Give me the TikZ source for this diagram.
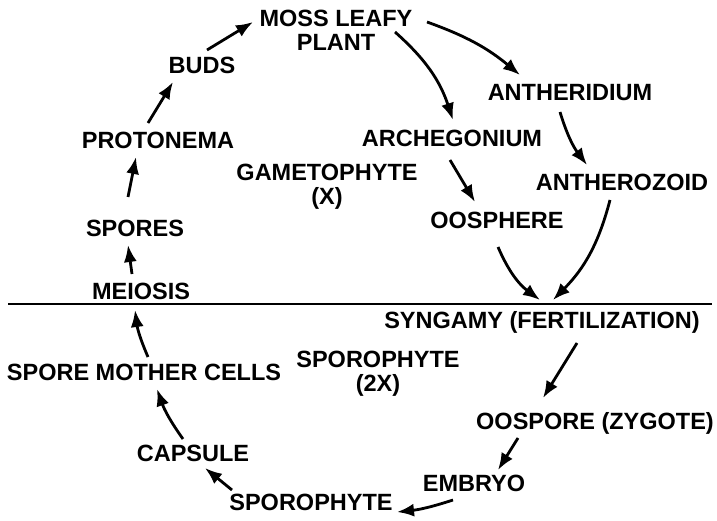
\documentclass[tikz,border=0pt]{standalone}
\usepackage{fontspec}
\setmainfont{Liberation Sans}
\usetikzlibrary{arrows.meta}

\tikzset{
  stage/.style={font=\bfseries\fontsize{23.5}{24}\selectfont, inner sep=0pt, align=center},
  arr/.style={line width=2.8pt, -{Latex[length=17pt,width=13pt]}},
}

\begin{document}
\begin{tikzpicture}[x=1pt, y=-1pt]
            \useasboundingbox (0,0) rectangle (717,521);

            % Gametophyte part (top)
            \node[stage] (moss) at (336,30) {MOSS LEAFY\\PLANT};
            \node[stage] (buds) at (202,65) {BUDS};
            \node[stage] (proto) at (158,140) {PROTONEMA};
            \node[stage] (spores) at (135,228) {SPORES};
            \node[stage] (meiosis) at (141,291) {MEIOSIS};
            \node[stage] (game) at (327,187) {GAMETOPHYTE\\(X)};
            \node[stage] (arche) at (452,138) {ARCHEGONIUM};
            \node[stage] (anther) at (570,93) {ANTHERIDIUM};
            \node[stage] (antzoid) at (622,182) {ANTHEROZOID};
            \node[stage] (oosph) at (497,220) {OOSPHERE};

            % Dividing line
            \draw[line width=1.8pt] (8,304) -- (712,304);

            % Sporophyte part (bottom)
            \node[stage] (syn) at (542,322) {SYNGAMY (FERTILIZATION)};
            \node[stage] (sporo2x) at (378,374) {SPOROPHYTE\\(2X)};
            \node[stage] (smc) at (144,372) {SPORE MOTHER CELLS};
            \node[stage] (capsule) at (193,453) {CAPSULE};
            \node[stage] (sporo) at (311,502) {SPOROPHYTE};
            \node[stage] (embryo) at (474,483) {EMBRYO};
            \node[stage] (oospore) at (595,423) {OOSPORE (ZYGOTE)};

            % Arrows
            \draw[arr] ([shift={(-9,-17)}]meiosis.center) -- ([shift={(-7,17)}]spores.center);
            \draw[arr] ([shift={(-7,-31)}]spores.center) -- ([shift={(-22,17)}]proto.center);
            \draw[arr] ([shift={(-10,-17)}]proto.center) -- ([shift={(-29,17)}]buds.center);
            \draw[arr] ([shift={(5,-15)}]buds.center) -- ([shift={(-83,-8)}]moss.center);
            \draw[arr] ([shift={(91,-8)}]moss.center) to[bend left=10] ([shift={(-50,-18)}]anther.center);
            \draw[arr] ([shift={(59,2)}]moss.center) to[bend left=15] ([shift={(1,-18)}]arche.center);
            \draw[arr] ([shift={(-2,22)}]arche.center) -- ([shift={(-22,-18)}]oosph.center);
            \draw[arr] ([shift={(-10,19)}]anther.center) to[bend right=10] ([shift={(-35,-17)}]antzoid.center);
            \draw[arr] ([shift={(1,27)}]oosph.center) to[bend right=15] ([shift={(-2,-22)}]syn.center);
            \draw[arr] ([shift={(-12,18)}]antzoid.center) to[bend left=15] ([shift={(11,-22)}]syn.center);
            \draw[arr] ([shift={(35,21)}]syn.center) -- ([shift={(-52,-25)}]oospore.center);
            \draw[arr] ([shift={(-77,15)}]oospore.center) -- ([shift={(24,-13)}]embryo.center);
            \draw[arr] ([shift={(-21,17)}]embryo.center) to[bend left=6] ([shift={(86,10)}]sporo.center);
            \draw[arr] ([shift={(-79,-12)}]sporo.center) -- ([shift={(12,15)}]capsule.center);
            \draw[arr] ([shift={(-10,-14)}]capsule.center) to[bend left=8] ([shift={(13,17)}]smc.center);
            \draw[arr] ([shift={(4,-15)}]smc.center) to[bend left=8] ([shift={(-6,19)}]meiosis.center);
        \end{tikzpicture}
\end{document}
